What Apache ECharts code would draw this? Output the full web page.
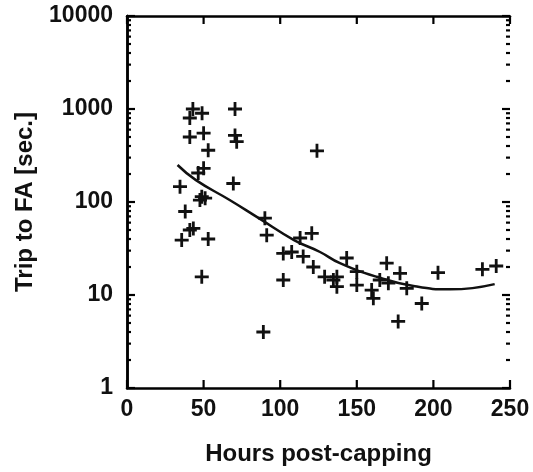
<!DOCTYPE html>
<html>
<head>
<meta charset="utf-8">
<script src="https://cdn.jsdelivr.net/npm/echarts@6/dist/echarts.min.js"></script>
<style>html,body{margin:0;padding:0;background:#fff}#c{width:533px;height:472px}</style>
</head>
<body>
<div id="c"></div>
<script>
// Scatter observations (hours post-capping, trip to FA in seconds)
var hours = [43, 49, 41, 70.5, 50, 41, 70.5, 71.6, 53, 124, 46.5, 50, 34.6, 69.4, 48.8, 47.6, 51, 38, 41, 43.3, 35.7, 53, 48.8, 90, 91.2, 89, 102, 102, 107.5, 113, 120.6, 115, 121.6, 129, 134.7, 137, 137, 143.4, 150, 150, 159.7, 160.8, 165, 169.5, 170.6, 178.2, 182.6, 177, 192.4, 203, 232, 241];
var trip  = [1000, 900, 800, 1000, 550, 500, 520, 445, 360, 355, 205, 230, 146, 158, 114, 105, 110, 79, 50, 52, 39, 40, 15.7, 67, 44, 4.0, 28, 14.5, 29, 41, 46, 26, 20, 15.7, 14.5, 12.3, 15.7, 25, 17.8, 12.8, 11.3, 9.2, 14.5, 22, 13.4, 17.1, 11.8, 5.2, 8.1, 17.4, 18.9, 20.5];
// Fitted curve
var fitX = [33, 45, 67, 86, 109, 126, 139, 163, 187, 211, 240];
var fitY = [250, 172, 105, 67, 39, 29, 22, 15.7, 12.5, 11.5, 13.1];
// Tick values
var xTicks = [0, 50, 100, 150, 200, 250];
var yMajor = [1, 10, 100, 1000, 10000];
var yMinor = [2,3,4,5,6,7,8,9,20,30,40,50,60,70,80,90,200,300,400,500,600,700,800,900,2000,3000,4000,5000,6000,7000,8000,9000];

var scatterData = hours.map(function(h, i){ return [h, trip[i]]; });
var fitData = fitX.map(function(h, i){ return [h, fitY[i]]; });
var yTickData = yMajor.map(function(v){ return [0, v, 8]; }).concat(yMinor.map(function(v){ return [0, v, 4]; }));
var xTickData = xTicks.map(function(v){ return [v, 1, 8]; });

var font = 'Liberation Sans, Arial, sans-serif';
var plus = 'path://M4,0H6V4H10V6H6V10H4V6H0V4H4Z';
var ink = '#000000';
var txt = '#111111';

function line() { return {show: true, lineStyle: {color: ink, width: 2.5}}; }

function seg(x1, y1, x2, y2) {
  return {type: 'line', shape: {x1: x1, y1: y1, x2: x2, y2: y2}, style: {stroke: ink, lineWidth: 2.2}};
}

var chart = echarts.init(document.getElementById('c'));

chart.setOption({
  animation: false,
  backgroundColor: '#fff',
  grid: {left: 127, right: 23, top: 16, bottom: 84},
  xAxis: [{
    type: 'value', min: 0, max: 250, interval: 50, position: 'bottom',
    axisLine: line(), axisTick: {show: false},
    axisLabel: {fontSize: 23, fontWeight: 'bold', color: txt, fontFamily: font, margin: 10},
    splitLine: {show: false},
    name: 'Hours post-capping', nameLocation: 'middle', nameGap: 54,
    nameTextStyle: {fontSize: 24, fontWeight: 'bold', color: txt, fontFamily: font}
  }, {
    type: 'value', min: 0, max: 250, interval: 50, position: 'top',
    axisLine: line(), axisTick: {show: false},
    axisLabel: {show: false}, splitLine: {show: false}
  }],
  yAxis: [{
    type: 'log', logBase: 10, min: 1, max: 10000, position: 'left',
    axisLine: line(), axisTick: {show: false},
    axisLabel: {show: true, customValues: yMajor, fontSize: 23, fontWeight: 'bold', color: txt, fontFamily: font, margin: 14,
      formatter: function(v){ return String(Math.round(v)); }},
    splitLine: {show: false},
    name: 'Trip to FA [sec.]', nameLocation: 'middle', nameGap: 90,
    nameTextStyle: {fontSize: 24, fontWeight: 'bold', color: txt, fontFamily: font}
  }, {
    type: 'log', logBase: 10, min: 1, max: 10000, position: 'right',
    axisLine: line(), axisTick: {show: false},
    axisLabel: {show: false}, splitLine: {show: false}
  }],
  series: [{
    type: 'scatter', xAxisIndex: 0, yAxisIndex: 0,
    symbol: plus, symbolSize: 14,
    itemStyle: {color: txt, opacity: 1},
    data: scatterData
  }, {
    type: 'line', xAxisIndex: 0, yAxisIndex: 0,
    smooth: true, showSymbol: false, symbol: 'none',
    lineStyle: {color: txt, width: 2.5},
    data: fitData
  }, {
    // inward y ticks on left and right frame edges, positioned by the log scale
    type: 'custom', xAxisIndex: 0, yAxisIndex: 0, silent: true, clip: false,
    encode: {x: 0, y: 1},
    data: yTickData,
    renderItem: function(params, api) {
      var cs = params.coordSys;
      var y = api.coord([0, api.value(1)])[1];
      var L = api.value(2);
      return {type: 'group', children: [
        seg(cs.x, y, cs.x + L, y),
        seg(cs.x + cs.width - L, y, cs.x + cs.width, y)
      ]};
    }
  }, {
    // inward x ticks on bottom and top frame edges
    type: 'custom', xAxisIndex: 0, yAxisIndex: 0, silent: true, clip: false,
    encode: {x: 0, y: 1},
    data: xTickData,
    renderItem: function(params, api) {
      var cs = params.coordSys;
      var x = api.coord([api.value(0), 1])[0];
      var L = api.value(2);
      return {type: 'group', children: [
        seg(x, cs.y + cs.height, x, cs.y + cs.height - L),
        seg(x, cs.y, x, cs.y + L)
      ]};
    }
  }]
});
</script>
</body>
</html>
